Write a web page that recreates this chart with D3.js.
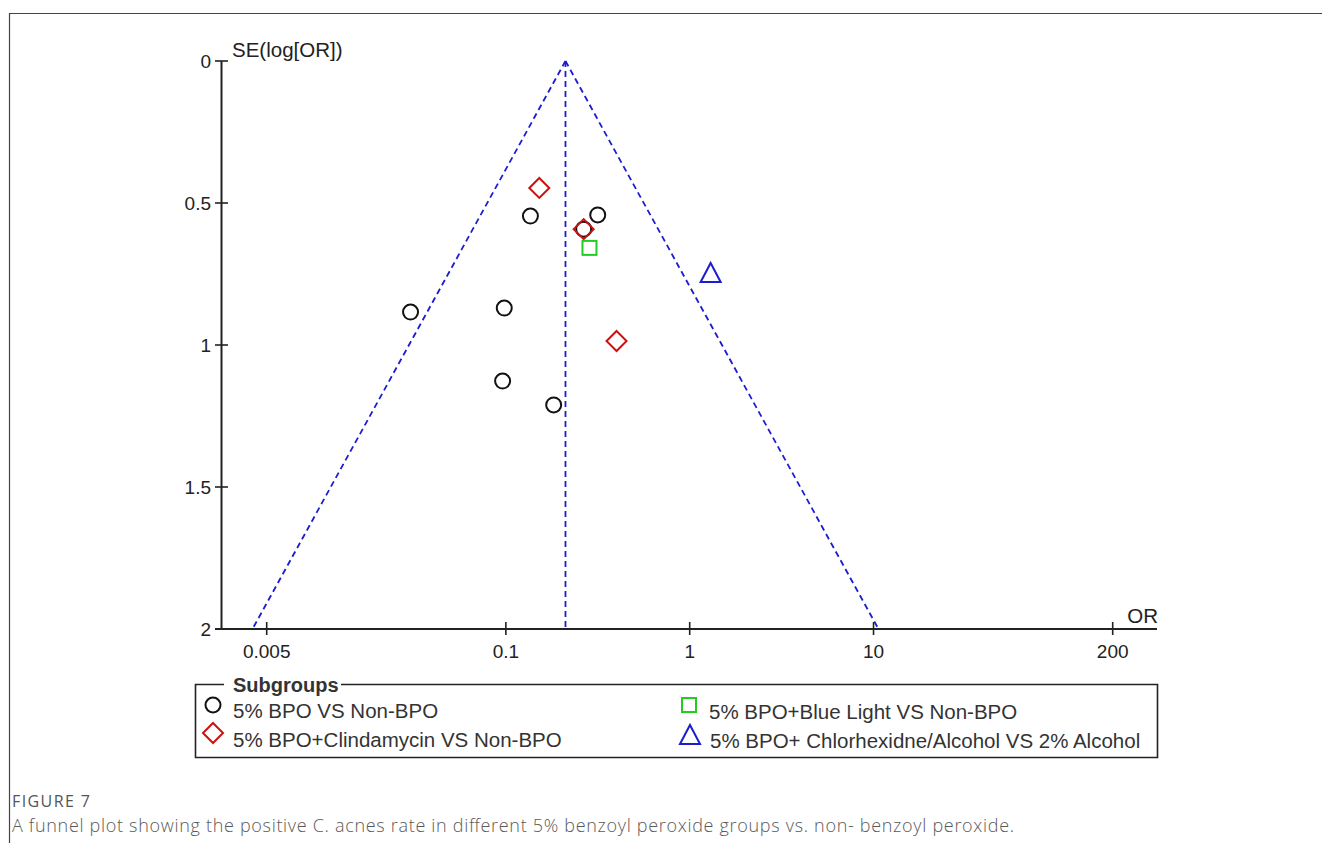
<!DOCTYPE html>
<html>
<head>
<meta charset="utf-8">
<script src="https://d3js.org/d3.v7.min.js"></script>
<style>
  body { margin: 0; background: #fff; }
  svg text { font-family: "Liberation Sans", Arial, sans-serif; fill: #222; }
</style>
</head>
<body>
<svg id="chart" width="1322" height="843"></svg>
<script>
// data
const pooledOR = 0.211;
const xTicks = [0.005, 0.1, 1, 10, 200];
const yTicks = [0, 0.5, 1, 1.5, 2];

const bpoOR = [0.136, 0.316, 0.265, 0.0303, 0.098, 0.096, 0.182];
const bpoSE = [0.546, 0.542, 0.592, 0.884, 0.870, 1.127, 1.211];
const clindaOR = [0.152, 0.265, 0.40];
const clindaSE = [0.447, 0.592, 0.986];
const blueLightOR = [0.285];
const blueLightSE = [0.658];
const chlorOR = [1.30];
const chlorSE = [0.750];

const svg = d3.select("#chart");

// outer frame (left + top only)
svg.append("path")
  .attr("d", "M9.5,850 V13.5 H1322")
  .attr("fill", "none").attr("stroke", "#444").attr("stroke-width", 1.2);

const x = d3.scaleLog().domain([0.005, 200]).range([266.7, 1112.7]);
const y = d3.scaleLinear().domain([0, 2]).range([61, 629]);
const axisLeftX = 221.5, axisRightX = 1157;

const g = svg.append("g");

// funnel + pooled line
const blue = "#1c1cd0";
const seMax = 2;
const funnel = [
  [[pooledOR, 0], [pooledOR * Math.exp(-1.96 * seMax), seMax]],
  [[pooledOR, 0], [pooledOR * Math.exp(1.96 * seMax), seMax]],
  [[pooledOR, 0], [pooledOR, seMax]]
];
g.selectAll(".funnel").data(funnel).join("line")
  .attr("x1", d => x(d[0][0])).attr("y1", d => y(d[0][1]))
  .attr("x2", d => x(d[1][0])).attr("y2", d => y(d[1][1]))
  .attr("stroke", blue).attr("stroke-width", 1.8)
  .attr("stroke-dasharray", "6,4");

// axes
const axisColor = "#222";
g.append("line").attr("x1", axisLeftX).attr("x2", axisLeftX)
  .attr("y1", y(0)).attr("y2", y(2)).attr("stroke", axisColor).attr("stroke-width", 2);
g.append("line").attr("x1", 215).attr("x2", axisRightX)
  .attr("y1", y(2)).attr("y2", y(2)).attr("stroke", axisColor).attr("stroke-width", 2);

g.selectAll(".ytick").data(yTicks).join("line")
  .attr("x1", 215).attr("x2", 228)
  .attr("y1", d => y(d)).attr("y2", d => y(d))
  .attr("stroke", axisColor).attr("stroke-width", 1.6);
g.selectAll(".ylab").data(yTicks).join("text")
  .attr("x", 211).attr("y", d => y(d)).attr("dy", "0.36em")
  .attr("text-anchor", "end").style("font-size", "19px")
  .text(d => d);

g.selectAll(".xtick").data(xTicks).join("line")
  .attr("x1", d => x(d)).attr("x2", d => x(d))
  .attr("y1", y(2) - 7).attr("y2", y(2) + 6)
  .attr("stroke", axisColor).attr("stroke-width", 1.6);
g.selectAll(".xlab").data(xTicks).join("text")
  .attr("x", d => x(d)).attr("y", 658)
  .attr("text-anchor", "middle").style("font-size", "19px")
  .text(d => d);

g.append("text").attr("x", 232).attr("y", 57).style("font-size", "20.5px").text("SE(log[OR])");
g.append("text").attr("x", 1158).attr("y", 623).attr("text-anchor", "end")
  .style("font-size", "20.5px").text("OR");

// markers
const black = "#111", red = "#cc1111", green = "#22cc22";
const sw = 2;
function circle(sel, cx, cy) {
  sel.append("circle").attr("cx", cx).attr("cy", cy).attr("r", 7.5)
    .attr("fill", "none").attr("stroke", black).attr("stroke-width", sw);
}
function diamond(sel, cx, cy) {
  const s = 10;
  sel.append("path").attr("d", `M${cx},${cy - s} L${cx + s},${cy} L${cx},${cy + s} L${cx - s},${cy} Z`)
    .attr("fill", "none").attr("stroke", red).attr("stroke-width", sw);
}
function square(sel, cx, cy) {
  const s = 7;
  sel.append("rect").attr("x", cx - s).attr("y", cy - s).attr("width", 2 * s).attr("height", 2 * s)
    .attr("fill", "none").attr("stroke", green).attr("stroke-width", sw);
}
function triangle(sel, cx, cy) {
  sel.append("path").attr("d", `M${cx},${cy - 11} L${cx + 10},${cy + 8} L${cx - 10},${cy + 8} Z`)
    .attr("fill", "none").attr("stroke", blue).attr("stroke-width", sw);
}

bpoOR.forEach((o, i) => circle(g, x(o), y(bpoSE[i])));
clindaOR.forEach((o, i) => diamond(g, x(o), y(clindaSE[i])));
blueLightOR.forEach((o, i) => square(g, x(o), y(blueLightSE[i])));
chlorOR.forEach((o, i) => triangle(g, x(o), y(chlorSE[i])));

// legend
const leg = svg.append("g");
leg.append("path")
  .attr("d", "M224,684.5 H195.5 V757.5 H1157.5 V684.5 H341")
  .attr("fill", "none").attr("stroke", "#222").attr("stroke-width", 1.6);
leg.append("text").attr("x", 233).attr("y", 692).style("font-size", "20px")
  .style("font-weight", "bold").style("fill", "#333").text("Subgroups");

const legendItems = [
  { label: "5% BPO VS Non-BPO", shape: circle, x: 213, y: 705 },
  { label: "5% BPO+Clindamycin VS Non-BPO", shape: diamond, x: 213, y: 733 },
  { label: "5% BPO+Blue Light VS Non-BPO", shape: square, x: 689, y: 705 },
  { label: "5% BPO+ Chlorhexidne/Alcohol VS 2% Alcohol", shape: triangle, x: 690, y: 736 }
];
legendItems.forEach((d, i) => {
  d.shape(leg, d.x, d.y);
  leg.append("text").attr("x", d.x + 20).attr("y", [718, 747, 719, 748][i])
    .style("font-size", "20.5px").style("fill", "#333").text(d.label);
});

// caption
svg.append("text").attr("x", 12).attr("y", 807)
  .style("font-family", "'Open Sans', sans-serif").style("font-size", "16px")
  .style("fill", "#555").attr("textLength", 78).attr("lengthAdjust", "spacing")
  .text("FIGURE 7");
svg.append("text").attr("x", 12).attr("y", 832)
  .style("font-family", "'Open Sans', sans-serif").style("font-size", "18px")
  .style("font-weight", "300").style("fill", "#5a5a5a")
  .attr("textLength", 1002).attr("lengthAdjust", "spacing")
  .text("A funnel plot showing the positive C. acnes rate in different 5% benzoyl peroxide groups vs. non- benzoyl peroxide.");
</script>
</body>
</html>
